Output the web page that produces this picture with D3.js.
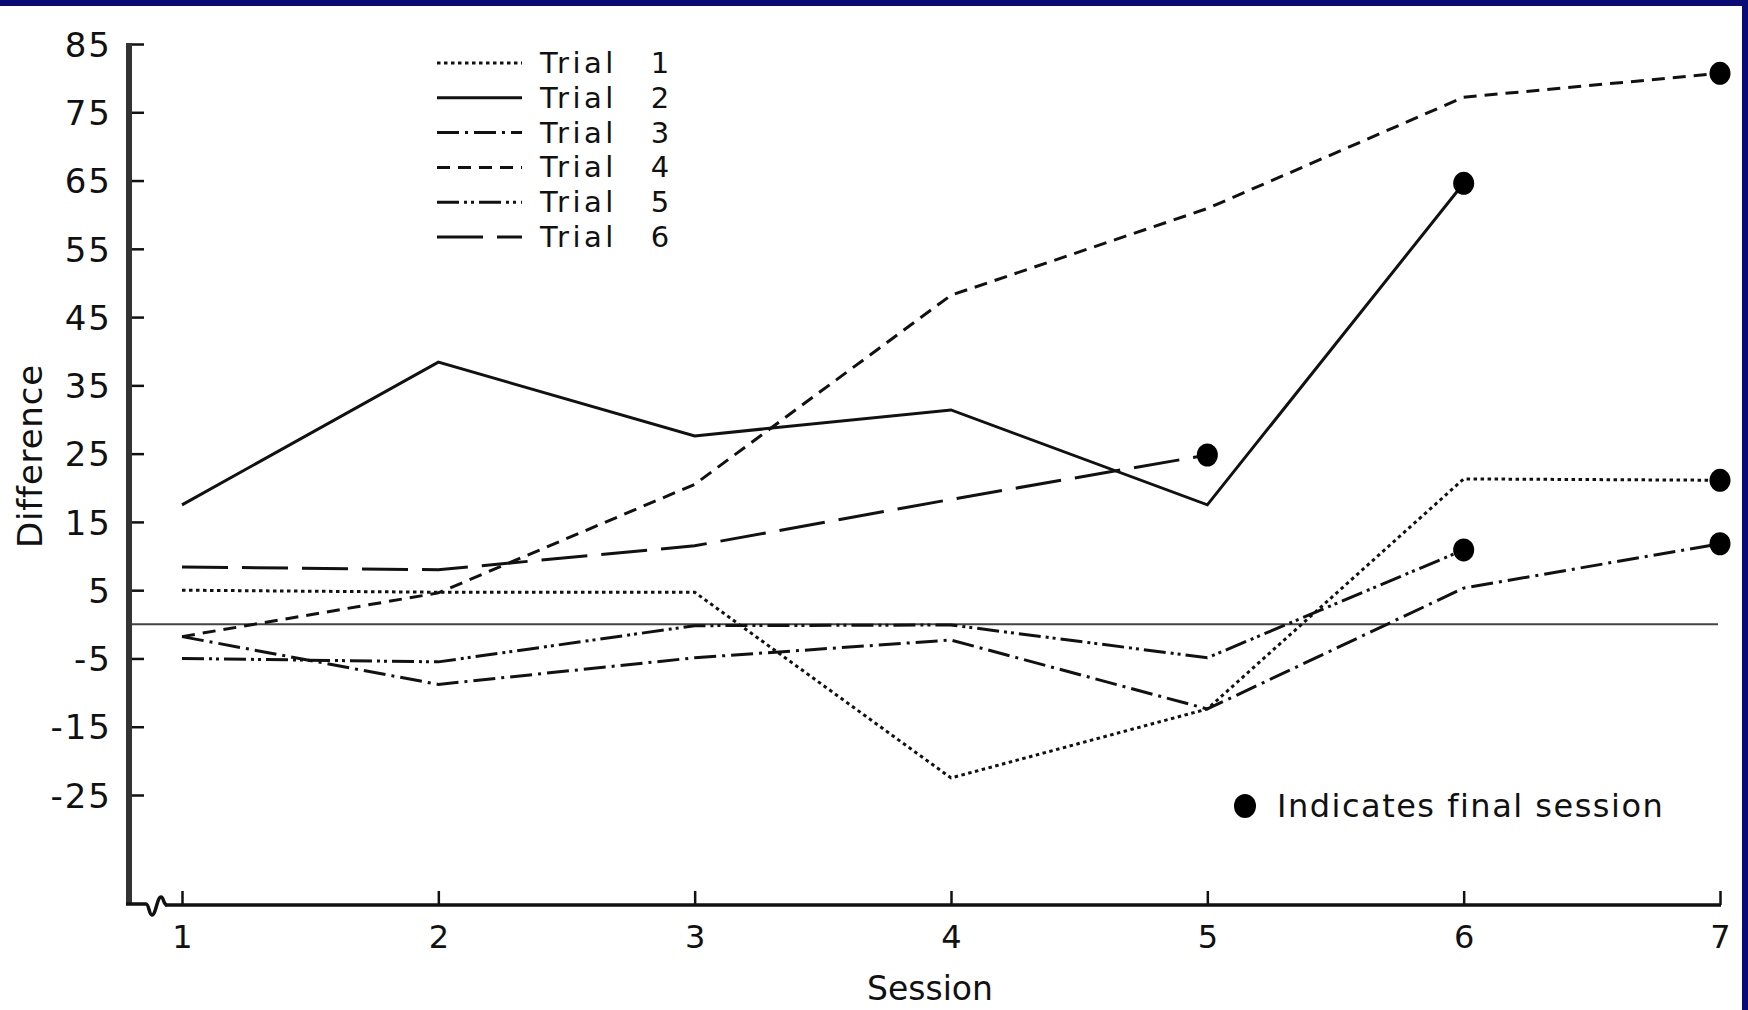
<!DOCTYPE html>
<html>
<head>
<meta charset="utf-8">
<script src="https://cdn.jsdelivr.net/npm/d3@7"></script>
<style>
  html, body { margin: 0; padding: 0; background: #fff; }
  svg { display: block; font-family: "DejaVu Sans", sans-serif; }
</style>
</head>
<body>
<svg id="chart" width="1748" height="1010"></svg>
<script>
// Sessions and per-trial differences
const sessions = [1, 2, 3, 4, 5, 6, 7];
const trial1 = [5.0, 4.7, 4.7, -22.5, -12.4, 21.3, 21.1];
const trial2 = [17.5, 38.4, 27.6, 31.4, 17.5, 64.6];
const trial3 = [-1.8, -8.8, -4.9, -2.3, -12.4, 5.3, 11.8];
const trial4 = [-1.8, 4.6, 20.5, 48.2, 60.9, 77.2, 80.7];
const trial5 = [-5.0, -5.5, -0.2, -0.1, -4.9, 10.9];
const trial6 = [8.4, 8.0, 11.5, 18.3, 24.8];
const trialNames = ["Trial", "Trial", "Trial", "Trial", "Trial", "Trial"];
const trialNumbers = ["1", "2", "3", "4", "5", "6"];
const yTicks = [85, 75, 65, 55, 45, 35, 25, 15, 5, -5, -15, -25];
const xLabel = "Session";
const yLabel = "Difference";
const noteText = "Indicates final session";

const trials = [trial1, trial2, trial3, trial4, trial5, trial6];
const dashes = ["3.5,3.5", null, "22,6,3,6", "13,8", "22,5,3,4,3,5", "46,14"];

const svg = d3.select("#chart");

// frame bars from the slide
svg.append("rect").attr("x", 0).attr("y", 0).attr("width", 1748).attr("height", 6).attr("fill", "#0b0b78");
svg.append("rect").attr("x", 1742).attr("y", 0).attr("width", 6).attr("height", 1010).attr("fill", "#0b0b78");

const x = d3.scaleLinear().domain([1, 7]).range([182, 1720]);
const y = d3.scaleLinear().domain([-25, 85]).range([795, 44]);
const axisX = 129;
const baseY = 905;

// zero reference line
svg.append("line")
    .attr("x1", axisX).attr("x2", x(7) - 2)
    .attr("y1", y(0)).attr("y2", y(0))
    .attr("stroke", "#444").attr("stroke-width", 2);

// y axis
const gy = svg.append("g")
    .attr("transform", `translate(${axisX},0)`)
    .call(d3.axisLeft(y).tickValues(yTicks).tickSize(-15).tickPadding(17).tickFormat(d => String(d)));
gy.select(".domain").remove();
gy.selectAll(".tick line").attr("stroke", "#111").attr("stroke-width", 2.5);
gy.selectAll(".tick text")
    .attr("fill", "#111")
    .attr("font-size", 34)
    .attr("letter-spacing", 2)
    .attr("dy", "0.36em")
    .style("font-family", "DejaVu Sans, sans-serif");

svg.append("line")
    .attr("x1", axisX).attr("x2", axisX)
    .attr("y1", y(85) - 1).attr("y2", baseY)
    .attr("stroke", "#333").attr("stroke-width", 6);

// x axis
const gx = svg.append("g")
    .attr("transform", `translate(0,${baseY})`)
    .call(d3.axisBottom(x).tickValues(sessions).tickSize(-14).tickPadding(20).tickFormat(d3.format("d")));
gx.select(".domain").remove();
gx.selectAll(".tick line").attr("stroke", "#111").attr("stroke-width", 2.5);
gx.selectAll(".tick text")
    .attr("fill", "#111")
    .attr("font-size", 32)
    .style("font-family", "DejaVu Sans, sans-serif");

svg.append("line")
    .attr("x1", 165).attr("x2", x(7) + 1)
    .attr("y1", baseY).attr("y2", baseY)
    .attr("stroke", "#111").attr("stroke-width", 3.5);

// axis break squiggle
svg.append("path")
    .attr("d", `M${axisX - 3},${baseY - 1} L146,${baseY - 1} C149,${baseY - 1} 149,${baseY + 10} 152,${baseY + 10} C156,${baseY + 10} 157,${baseY - 8} 161,${baseY - 8} C164,${baseY - 8} 163,${baseY} 167,${baseY}`)
    .attr("fill", "none").attr("stroke", "#111").attr("stroke-width", 3.5);

// series lines
const line = d3.line().x((d, i) => x(sessions[i])).y(d => y(d));
trials.forEach((vals, k) => {
    svg.append("path")
        .datum(vals)
        .attr("d", line)
        .attr("fill", "none")
        .attr("stroke", "#111")
        .attr("stroke-width", 3)
        .attr("stroke-dasharray", dashes[k]);
});

// final-session dots
svg.selectAll(".final")
    .data(trials)
    .enter()
    .append("ellipse")
    .attr("class", "final")
    .attr("cx", d => x(sessions[d.length - 1]))
    .attr("cy", d => y(d[d.length - 1]))
    .attr("rx", 10.5).attr("ry", 11.5)
    .attr("fill", "#000");

// legend
const legend = svg.append("g");
trialNames.forEach((name, k) => {
    const ly = 63 + k * 34.8;
    legend.append("line")
        .attr("x1", 437).attr("x2", 522)
        .attr("y1", ly).attr("y2", ly)
        .attr("stroke", "#111").attr("stroke-width", 3)
        .attr("stroke-dasharray", dashes[k]);
    legend.append("text")
        .attr("x", 540).attr("y", ly + 10)
        .attr("font-size", 29).attr("letter-spacing", 3.5)
        .attr("fill", "#111")
        .text(name);
    legend.append("text")
        .attr("x", 660).attr("y", ly + 10)
        .attr("text-anchor", "middle")
        .attr("font-size", 29)
        .attr("fill", "#111")
        .text(trialNumbers[k]);
});

// note
svg.append("ellipse")
    .attr("cx", 1245).attr("cy", 806).attr("rx", 11).attr("ry", 12).attr("fill", "#000");
svg.append("text")
    .attr("x", 1277).attr("y", 817)
    .attr("font-size", 32).attr("letter-spacing", 1.5)
    .attr("fill", "#111")
    .text(noteText);

// axis titles
svg.append("text")
    .attr("x", 930).attr("y", 1000)
    .attr("text-anchor", "middle")
    .attr("font-size", 33)
    .attr("fill", "#111")
    .text(xLabel);

svg.append("text")
    .attr("transform", "translate(30,456) rotate(-90)")
    .attr("text-anchor", "middle")
    .attr("dy", "0.36em")
    .attr("font-size", 34).attr("letter-spacing", 0.8)
    .attr("fill", "#111")
    .text(yLabel);
</script>
</body>
</html>
